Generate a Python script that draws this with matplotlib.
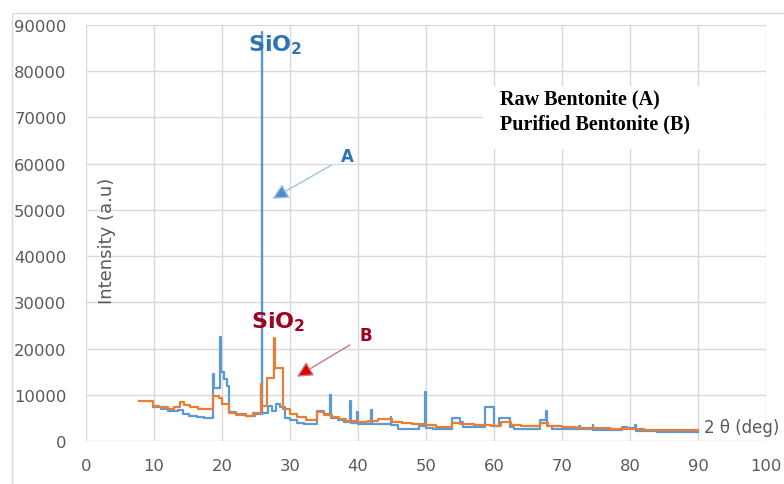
import matplotlib.pyplot as plt
from matplotlib.patches import Rectangle

# raw bentonite (A), drawn as steps
rawAngle = [9.9, 11.0, 12.0, 13.5, 14.3, 15.2, 16.3, 17.3, 18.7, 18.8,
            19.7, 19.8, 20.3, 20.7, 21.0, 22.0, 23.5, 24.8, 25.85, 25.95,
            26.8, 27.3, 27.9, 28.5, 29.2, 30.0, 31.0, 32.0, 33.9, 35.0,
            35.9, 36.0, 37.0, 38.0, 38.8, 38.9, 39.9, 40.0, 41.9, 42.0,
            44.8, 44.9, 45.9, 48.9, 49.85, 49.95, 51.0, 53.8, 55.0, 55.5,
            58.7, 60.0, 60.7, 62.3, 63.0, 66.8, 67.7, 67.8, 68.5, 72.5,
            72.6, 74.5, 74.6, 78.8, 79.5, 80.8, 80.9, 84.0, 90.0]
rawIntensity = [7300, 6900, 6500, 6700, 5800, 5500, 5200, 5000, 14500, 11500,
                22500, 15000, 13500, 12000, 6200, 5800, 5500, 5800, 88500, 6000,
                7500, 6500, 8000, 7300, 5000, 4500, 4000, 3700, 6500, 5900,
                10000, 5000, 4600, 4200, 8700, 3800, 6200, 3700, 6800, 3700,
                5200, 3500, 2700, 3300, 10700, 2800, 2600, 5000, 4100, 3000,
                7300, 3300, 4900, 3100, 2600, 4500, 6500, 3200, 2500, 3300,
                2500, 3400, 2400, 3100, 2800, 3400, 2200, 2000, 1900]

# purified bentonite (B)
purAngle = [7.8, 9.9, 10.8, 12.0, 13.0, 13.8, 14.4, 15.3, 16.5, 17.5,
            18.7, 19.5, 20.0, 21.0, 22.0, 23.5, 24.5, 25.7, 25.8, 26.6,
            27.7, 27.8, 28.9, 30.0, 31.0, 32.3, 33.9, 35.0, 36.2, 37.2,
            38.2, 40.0, 41.5, 43.0, 45.0, 46.5, 48.0, 50.0, 51.5, 53.8,
            55.0, 57.0, 59.5, 61.0, 62.5, 64.0, 66.8, 68.0, 70.0, 72.0,
            75.0, 77.0, 79.0, 82.0, 86.0, 90.0]
purIntensity = [8700, 7600, 7300, 7000, 7300, 8400, 7800, 7300, 6900, 7000,
                9800, 9300, 8000, 6000, 5600, 5500, 6000, 12300, 7500, 13700,
                22200, 15700, 7000, 5900, 5200, 4600, 6300, 5700, 5100, 4700,
                4300, 4100, 4300, 4700, 4200, 3800, 3600, 3400, 3100, 3900,
                3600, 3400, 3200, 4100, 3400, 3200, 3800, 3200, 3000, 2900,
                2800, 2700, 2500, 2400, 2300, 2200]

xTicks = list(range(0, 101, 10))
yTicks = list(range(0, 90001, 10000))

gray = '#595959'
blue = '#2e75b6'
darkRed = '#a0001e'

fig = plt.figure(figsize=(7.84, 4.85), dpi=100)
# light outer border of the chart
fig.patches.append(Rectangle((12/784, -0.1), 1.2, 1.1 - 14/485,
                             transform=fig.transFigure, fill=False,
                             ec='#d9d9d9', lw=1))

ax = fig.add_axes([86/784, 1 - 442/485, 680/784, 416/485])
ax.set_xlim(0, 100)
ax.set_ylim(0, 90000)
ax.set_xticks(xTicks)
ax.set_yticks(yTicks)
for s in ax.spines.values():
    s.set_visible(False)
ax.set_axisbelow(True)
ax.grid(True, color='#d9d9d9', lw=1)
ax.tick_params(length=0, labelsize=11.8, labelcolor=gray)
ax.tick_params(axis='x', pad=12)
ax.tick_params(axis='y', pad=14)

ax.plot(rawAngle, rawIntensity, drawstyle='steps-post', color='#5b9bd5',
        lw=1.6, zorder=3)
ax.plot(purAngle, purIntensity, drawstyle='steps-post', color='#ed7d31',
        lw=1.6, zorder=4)

# white box behind the legend text
ax.add_patch(Rectangle((58.4, 63200), 41.5, 13600, fc='white', ec='none',
                       zorder=2))
ax.text(60.9, 74000, 'Raw Bentonite (A)', family='Liberation Serif',
        weight='bold', fontsize=14.5, va='center', zorder=5)
ax.text(60.9, 68800, 'Purified Bentonite (B)', family='Liberation Serif',
        weight='bold', fontsize=14.5, va='center', zorder=5)

ax.text(27.8, 85800, r'$\mathbf{SiO_2}$', color=blue, fontsize=16,
        ha='center', va='center', zorder=5)
ax.text(28.3, 26000, r'$\mathbf{SiO_2}$', color=darkRed, fontsize=16,
        ha='center', va='center', zorder=5)

ax.annotate('A', xy=(27.4, 52400), xytext=(38.5, 61700), color=blue,
            fontsize=12, weight='bold', ha='center', va='center', zorder=5,
            arrowprops=dict(arrowstyle='-|>,head_length=0.8,head_width=0.4',
                            ec='#9dc3e6', fc='#4a8ccf', lw=1, shrinkA=6,
                            shrinkB=0))
ax.annotate('B', xy=(31.0, 13900), xytext=(41.2, 22900), color=darkRed,
            fontsize=12, weight='bold', ha='center', va='center', zorder=5,
            arrowprops=dict(arrowstyle='-|>,head_length=0.8,head_width=0.4',
                            ec='#c87a82', fc='#e00000', lw=1, shrinkA=6,
                            shrinkB=0))

ax.text(3.1, 43500, 'Intensity (a.u)', rotation=90, color=gray, fontsize=13,
        ha='center', va='center')
ax.text(90.9, 3100, '2 θ (deg)', color=gray, fontsize=12, ha='left',
        va='center', clip_on=False)

fig.savefig('out.png', dpi=100)
